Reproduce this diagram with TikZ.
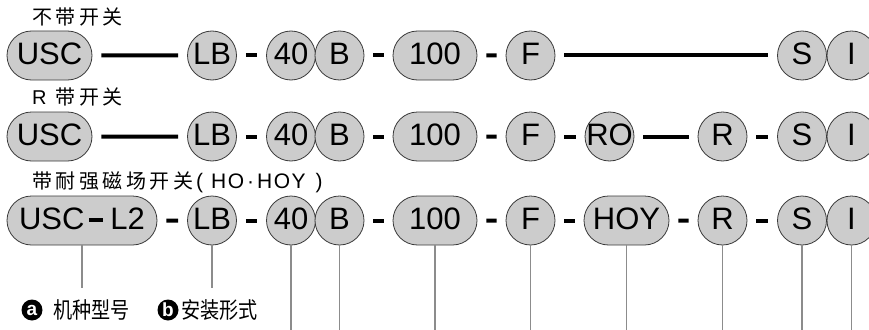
\documentclass[tikz,border=0pt]{standalone}
\usepackage{fontspec}
\setmainfont{Liberation Sans}
\newfontfamily\cjk[FakeStretch=0.85]{Noto Sans CJK SC}
\newfontfamily\cjkrow{Noto Sans CJK SC}
\newcommand\gp{\hspace{3.5pt}}
\usetikzlibrary{shapes.misc}
\definecolor{ballfill}{HTML}{CCCCCC}
\definecolor{balledge}{HTML}{3A3A3A}
\definecolor{leadgray}{HTML}{8C8C8C}
\begin{document}
\begin{tikzpicture}[x=1pt,y=-1pt,
  ball/.style={circle, draw=balledge, fill=ballfill, line width=0.8pt, minimum size=49pt, inner sep=0pt, text depth=4pt, font=\fontsize{31}{31}\selectfont},
  pill/.style={rounded rectangle, draw=balledge, fill=ballfill, line width=0.8pt, minimum height=49pt, inner sep=0pt, text depth=4pt, font=\fontsize{31}{31}\selectfont},
  bar/.style={line width=4pt, shorten <=9pt, shorten >=9pt},
  lead/.style={draw=leadgray, line width=1.3pt},
  rowlabel/.style={anchor=west, inner sep=0pt, font=\cjkrow\fontsize{20}{20}\selectfont},
  note/.style={anchor=west, inner sep=0pt, font=\cjk\fontsize{22.5}{22.5}\selectfont},
  badge/.style={circle, fill=black, text=white, minimum size=21pt, inner sep=0pt, font=\bfseries\fontsize{19}{19}\selectfont}
]
\useasboundingbox (0,0) rectangle (869,329);

% row labels
\node[rowlabel] (t1) at (32,16.5) {不\gp 带\gp 开\gp 关};
\node[rowlabel] (t2) at (32,96.5) {{\rmfamily\fontsize{20}{20}\selectfont R}\hspace{9pt}带\gp 开\gp 关};
\node[rowlabel] (t3) at (32,182) {带\gp 耐\gp 强\gp 磁\gp 场\gp 开\gp 关\hspace{3pt}{\rmfamily\fontsize{21}{21}\selectfont(\hspace{8pt}H\hspace{1.5pt}O\hspace{3pt}·\hspace{3pt}H\hspace{1.5pt}O\hspace{1.5pt}Y\hspace{10pt})}};

% row 1
\node[pill, minimum width=85pt] (usc1) at (49.5,55.5) {USC};
\node[ball] (lb1) at (212,55.5) {\clap{LB}};
\node[ball] (f401) at (291,55.5) {\clap{40}};
\node[ball] (b1) at (339.5,55.5) {\clap{B}};
\node[pill, minimum width=84pt] (h1) at (435,55.5) {100};
\node[ball] (f1) at (530.5,55.5) {\clap{F}};
\node[ball] (s1) at (802,55.5) {\clap{S}};
\node[ball] (i1) at (851.5,55.5) {\clap{I}};
\draw[bar] (usc1) -- (lb1);
\draw[bar] (lb1) -- (f401);
\draw[bar] (b1) -- (h1);
\draw[bar] (h1) -- (f1);
\draw[bar] (f1) -- (s1);

% row 2
\node[pill, minimum width=85pt] (usc2) at (49.5,136.5) {USC};
\node[ball] (lb2) at (212,136.5) {\clap{LB}};
\node[ball] (f402) at (291,136.5) {\clap{40}};
\node[ball] (b2) at (339.5,136.5) {\clap{B}};
\node[pill, minimum width=84pt] (h2) at (435,136.5) {100};
\node[ball] (f2) at (530.5,136.5) {\clap{F}};
\node[ball] (ro2) at (609.5,136.5) {\clap{RO}};
\node[ball] (r2) at (722.5,136.5) {\clap{R}};
\node[ball] (s2) at (802,136.5) {\clap{S}};
\node[ball] (i2) at (851.5,136.5) {\clap{I}};
\draw[bar] (usc2) -- (lb2);
\draw[bar] (lb2) -- (f402);
\draw[bar] (b2) -- (h2);
\draw[bar] (h2) -- (f2);
\draw[bar] (f2) -- (ro2);
\draw[bar] (ro2) -- (r2);
\draw[bar] (r2) -- (s2);

% row 3
\node[pill, minimum width=150pt] (usc3) at (82,220.5) {USC\hspace{5pt}\rule[7pt]{14pt}{4pt}\hspace{7pt}L2};
\node[ball] (lb3) at (212,220.5) {\clap{LB}};
\node[ball] (f403) at (291,220.5) {\clap{40}};
\node[ball] (b3) at (339.5,220.5) {\clap{B}};
\node[pill, minimum width=84pt] (h3) at (435,220.5) {100};
\node[ball] (f3) at (530.5,220.5) {\clap{F}};
\node[pill, minimum width=85pt] (hoy3) at (626.5,220.5) {HOY};
\node[ball] (r3) at (722.5,220.5) {\clap{R}};
\node[ball] (s3) at (802,220.5) {\clap{S}};
\node[ball] (i3) at (851.5,220.5) {\clap{I}};
\draw[bar] (usc3) -- (lb3);
\draw[bar] (lb3) -- (f403);
\draw[bar] (b3) -- (h3);
\draw[bar] (h3) -- (f3);
\draw[bar] (f3) -- (hoy3);
\draw[bar] (hoy3) -- (r3);
\draw[bar] (r3) -- (s3);

% leader lines
\coordinate (endA) at (0,288);
\coordinate (endB) at (0,332);
\draw[lead] (usc3.south) -- (usc3.south |- endA);
\draw[lead] (lb3.south) -- (lb3.south |- endA);
\foreach \n in {f403,b3,h3,f3,hoy3,r3,s3,i3}
  \draw[lead] (\n.south) -- (\n.south |- endB);

% notes
\node[badge] (ba) at (32,310) {a};
\node[note] (na) at (53,310) {机种型号};
\node[badge] (bb) at (168,310) {b};
\node[note] (nb) at (181,310) {安装形式};
\end{tikzpicture}
\end{document}
